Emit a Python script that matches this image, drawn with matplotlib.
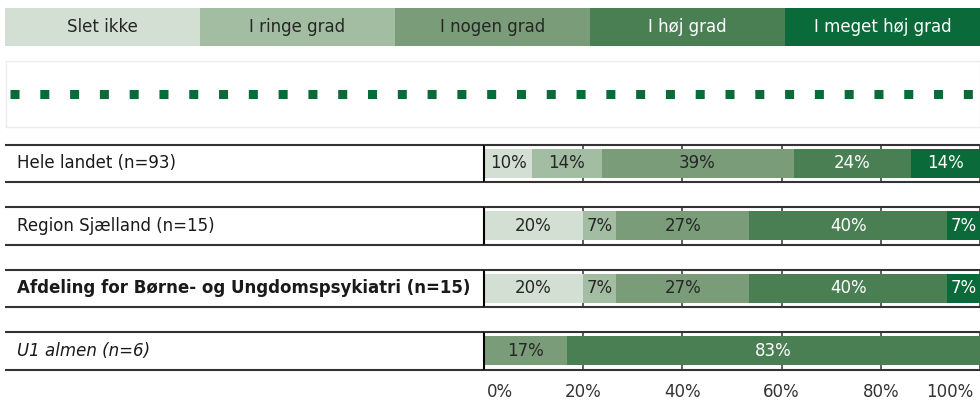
import numpy as np
import matplotlib
matplotlib.use("Agg")
import matplotlib.pyplot as plt
from matplotlib.transforms import ScaledTranslation

categories = ["Slet ikke", "I ringe grad", "I nogen grad", "I høj grad", "I meget høj grad"]
colors = ["#d3dfd3", "#a3bda3", "#7a9c79", "#4a7f54", "#0b6a39"]
text_colors = ["#262626", "#262626", "#262626", "white", "white"]

rows = ["Hele landet (n=93)", "Region Sjælland (n=15)",
        "Afdeling for Børne- og Ungdomspsykiatri (n=15)", "U1 almen (n=6)"]
row_weight = ["normal", "normal", "bold", "normal"]
row_style = ["normal", "normal", "normal", "italic"]

# shares in percent, one list per category (rows in order above)
slet_ikke = [9.7, 20.0, 20.0, 0.0]
ringe_grad = [14.0, 6.7, 6.7, 0.0]
nogen_grad = [38.7, 26.7, 26.7, 16.7]
hoej_grad = [23.7, 40.0, 40.0, 83.3]
meget_hoej = [14.0, 6.7, 6.7, 0.0]
series = [slet_ikke, ringe_grad, nogen_grad, hoej_grad, meget_hoej]

xticks = [0, 20, 40, 60, 80, 100]
xtick_labels = ["0%", "20%", "40%", "60%", "80%", "100%"]

W, H = 980, 400
fig = plt.figure(figsize=(W / 100, H / 100), dpi=100)
plt.rcParams['font.family'] = ['DejaVu Sans']
fs = 12


def box(x0, y0, x1, y1):
    # pixel box (top-left origin) -> figure fraction rect
    return [x0 / W, 1 - y1 / H, (x1 - x0) / W, (y1 - y0) / H]


# legend band
lax = fig.add_axes(box(5, 8, 980, 46))
n = len(categories)
lax.barh(0, [1] * n, left=np.arange(n), height=1, color=colors, edgecolor="none")
for i, c in enumerate(categories):
    lax.text(i + 0.5, 0, c, ha="center", va="center", color=text_colors[i], fontsize=fs)
lax.set_xlim(0, n)
lax.set_ylim(-0.5, 0.5)
lax.axis("off")

# dotted line box
dax = fig.add_axes(box(6, 61, 980, 127))
dax.plot([0.004, 1], [0.5, 0.5], color="#0b6a39", lw=6.5, solid_capstyle="butt",
         dash_capstyle="butt", dashes=(1.0, 2.3))
dax.set_xlim(0.0, 1.0)
dax.set_ylim(0, 1)
dax.set_xticks([])
dax.set_yticks([])
for s in dax.spines.values():
    s.set_color("#ececec")
    s.set_linewidth(1)

half = 0.3
ypos = np.arange(len(rows))

# row labels
tax = fig.add_axes(box(5, 132, 484, 382))
tax.set_xlim(0, 1)
tax.set_ylim(len(rows) - 0.5, -0.5)
tax.axis("off")
for i, r in enumerate(rows):
    tax.text(0.025, i, r, ha="left", va="center", fontsize=fs,
             fontweight=row_weight[i], fontstyle=row_style[i], color="#1a1a1a")
    tax.hlines([i - half, i + half], 0, 1, color="#333333", lw=1.5)

# bars
ax = fig.add_axes(box(484, 132, 980, 382))
left = np.zeros(len(rows))
for k, vals in enumerate(series):
    vals = np.array(vals)
    ax.barh(ypos, vals, left=left, height=0.46, color=colors[k], edgecolor="none", zorder=2)
    for i, v in enumerate(vals):
        if v > 0:
            ax.text(left[i] + v / 2, i, "{:.0f}%".format(v), ha="center", va="center",
                    color=text_colors[k], fontsize=fs, zorder=4)
    left += vals

for i in ypos:
    ax.vlines(xticks[1:], i - half, i + half, color="#444444", lw=1.2, zorder=1, clip_on=False)
    ax.vlines(0, i - half, i + half, color="black", lw=1.5, zorder=3, clip_on=False)
    ax.hlines([i - half, i + half], 0, 100, color="#333333", lw=1.5, zorder=3, clip_on=False)

ax.set_xlim(0, 100)
ax.set_ylim(len(rows) - 0.5, -0.5)
ax.set_yticks([])
ax.set_xticks(xticks)
ax.set_xticklabels(xtick_labels, fontsize=fs, color="#333333")
ax.tick_params(axis="x", length=0, pad=1)
tl = ax.get_xticklabels()
tl[0].set_ha("left")
tl[0].set_transform(tl[0].get_transform() + ScaledTranslation(0.03, 0, fig.dpi_scale_trans))
tl[-1].set_ha("right")
tl[-1].set_transform(tl[-1].get_transform() + ScaledTranslation(-0.07, 0, fig.dpi_scale_trans))
for s in ax.spines.values():
    s.set_visible(False)

fig.savefig("out.png", dpi=100)
